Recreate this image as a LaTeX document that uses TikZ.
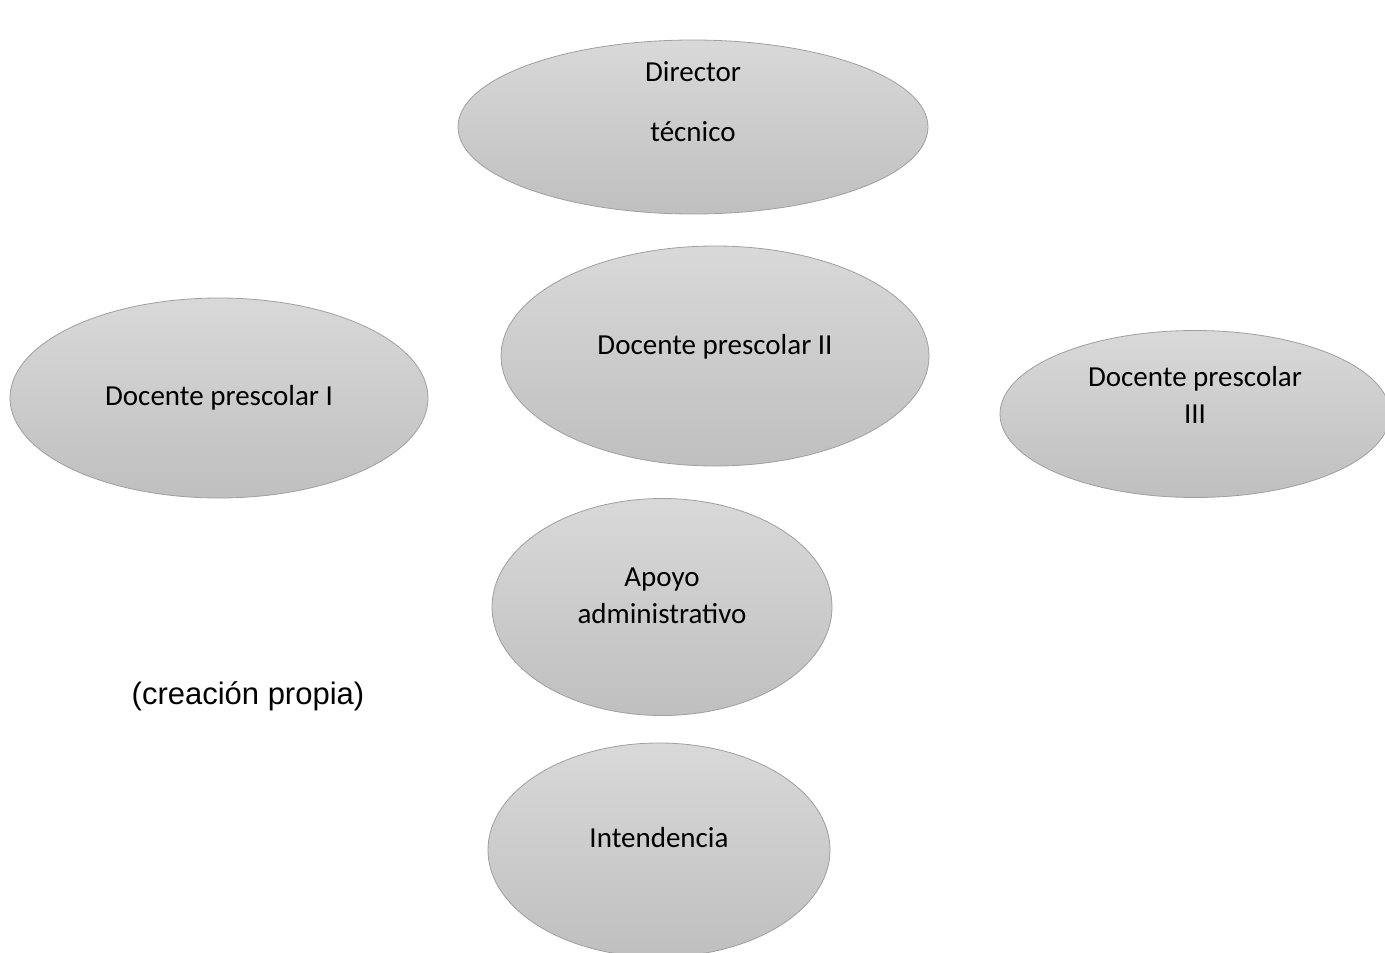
\documentclass[tikz,border=0pt]{standalone}
\usepackage{fontspec}
\setmainfont{Carlito}
\newfontfamily\notefont{Liberation Sans}
\usetikzlibrary{shapes.geometric}

\tikzset{
  oval/.style={ellipse, draw=gray!75, line width=0.8pt, top color=gray!30, bottom color=gray!50, inner sep=0pt},
  txt/.style={align=center, font=\fontsize{29}{37}\selectfont}
}

\begin{document}
\begin{tikzpicture}[x=1pt, y=-1pt]
  \clip (0,0) rectangle (1385,953);
  % ovals
  \node[oval, minimum width=470pt, minimum height=174pt] (dir) at (693,127) {};
  \node[oval, minimum width=428pt, minimum height=220pt] (doc2) at (715,356) {};
  \node[oval, minimum width=418pt, minimum height=200pt] (doc1) at (219,398) {};
  \node[oval, minimum width=390pt, minimum height=167pt] (doc3) at (1195,414) {};
  \node[oval, minimum width=340pt, minimum height=217pt] (apoyo) at (662,607) {};
  \node[oval, minimum width=342pt, minimum height=214pt] (inten) at (659,850) {};
  % texts
  \node[txt] (dirtxt) at ([yshift=25pt]dir.center) {Director\\[23pt]técnico};
  \node[txt] (doc2txt) at ([yshift=9pt]doc2.center) {Docente prescolar II};
  \node[txt] (doc1txt) at (doc1.center) {Docente prescolar I};
  \node[txt] (doc3txt) at ([yshift=19pt]doc3.center) {Docente prescolar\\III};
  \node[txt] (apoyotxt) at ([yshift=11pt]apoyo.center) {Apoyo\\administrativo};
  \node[txt] (intentxt) at ([yshift=12pt]inten.center) {Intendencia};
  \node[font=\notefont\fontsize{31}{37}\selectfont] (nota) at (248,696) {(creación propia)};
\end{tikzpicture}
\end{document}
